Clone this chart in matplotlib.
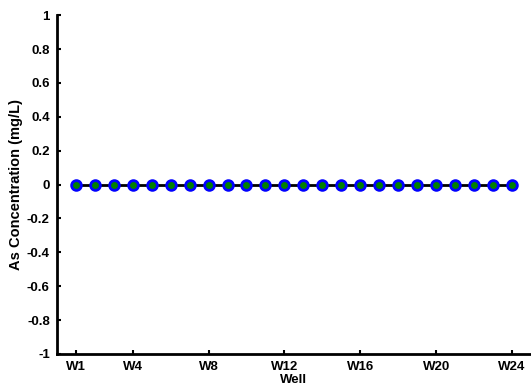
import matplotlib
matplotlib.use("Agg")
import matplotlib.pyplot as plt

# As concentration per well (all zero)
wells = list(range(1, 25))
conc = [0.0] * 24
tick_pos = [1, 4, 8, 12, 16, 20, 24]
tick_labels = ["W1", "W4", "W8", "W12", "W16", "W20", "W24"]
y_ticks = [1, 0.8, 0.6, 0.4, 0.2, 0, -0.2, -0.4, -0.6, -0.8, -1]

plt.rcParams['font.family'] = ['Liberation Sans', 'DejaVu Sans']
plt.rcParams['font.weight'] = 'bold'

fig = plt.figure(figsize=(5.31, 3.89), dpi=100)
ax = fig.add_axes([0.107, 0.09, 0.893, 0.871])
ax.plot(wells, conc, color='black', linewidth=2, marker='o', markersize=7,
        markerfacecolor='green', markeredgecolor='blue', markeredgewidth=2)
ax.set_xlim(0, 25)
ax.set_ylim(-1, 1)
ax.set_xticks(tick_pos)
ax.set_xticklabels(tick_labels)
ax.set_yticks(y_ticks)
ax.set_yticklabels([('%g' % v) for v in y_ticks])
ax.spines['top'].set_visible(False)
ax.spines['right'].set_visible(False)
ax.spines['left'].set_linewidth(2)
ax.spines['bottom'].set_linewidth(2)
ax.tick_params(direction='in', length=3, width=1.5, labelsize=9.5, pad=5)
ax.set_xlabel("Well", fontsize=9.5, fontweight='bold', labelpad=1)
ax.set_ylabel("As Concentration (mg/L)", fontsize=10.5, fontweight='bold', labelpad=3)
fig.savefig("out.png", dpi=100)
